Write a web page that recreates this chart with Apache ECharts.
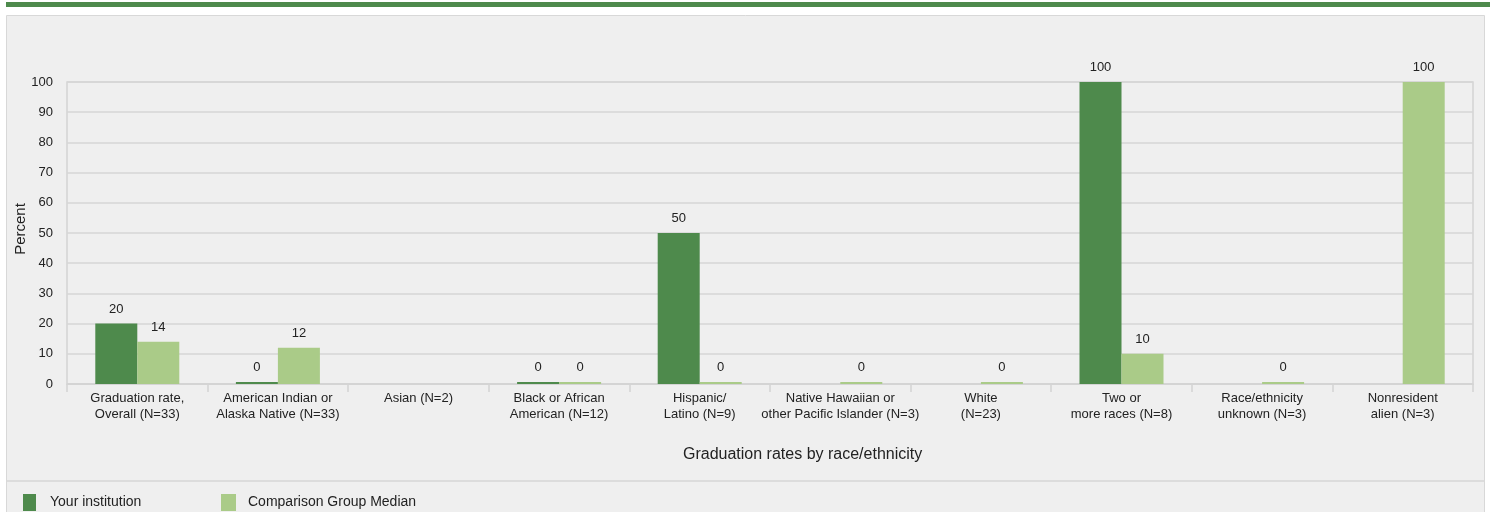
<!DOCTYPE html>
<html><head><meta charset="utf-8">
<script src="https://cdn.jsdelivr.net/npm/echarts@6/dist/echarts.min.js"></script>
<style>html,body{margin:0;padding:0;background:#fff;}#c{width:1490px;height:512px;}</style>
</head><body><div id="c"></div>
<script>
const categories = [
  'Graduation rate,\nOverall (N=33)',
  'American Indian or\nAlaska Native (N=33)',
  'Asian (N=2)',
  'Black or African\nAmerican (N=12)',
  'Hispanic/\nLatino (N=9)',
  'Native Hawaiian or\nother Pacific Islander (N=3)',
  'White\n(N=23)',
  'Two or\nmore races (N=8)',
  'Race/ethnicity\nunknown (N=3)',
  'Nonresident\nalien (N=3)'
];
const yourInstitution = [20, 0, '-', 0, 50, '-', '-', 100, '-', '-'];
const comparisonMedian = [14, 12, '-', 0, 0, 0, 0, 10, 0, 100];
const seriesNames = ['Your institution', 'Comparison Group Median'];
const yTicks = {min: 0, max: 100, interval: 10};
const yAxisTitle = 'Percent';
const xAxisTitle = 'Graduation rates by race/ethnicity';

const FONT = 'Liberation Sans, Arial, sans-serif';
const chart = echarts.init(document.getElementById('c'));
const labelCfg = {show: true, position: 'top', distance: 8, color: '#222', fontSize: 13, fontFamily: FONT};
chart.setOption({
  animation: false,
  textStyle: {fontFamily: FONT},
  graphic: [
    {type: 'rect', z: -10, shape: {x: 6, y: 2, width: 1484, height: 5}, style: {fill: '#4e8a4c'}},
    {type: 'rect', z: -10, shape: {x: 6.5, y: 15.5, width: 1478, height: 520}, style: {fill: '#efefef', stroke: '#d8d8d8', lineWidth: 1}},
    {type: 'rect', z: -9, shape: {x: 7, y: 480, width: 1477, height: 2}, style: {fill: '#dcdcdc'}},
    {type: 'text', z: 5, left: 683, top: 447, style: {text: xAxisTitle, fill: '#222', font: '16px ' + FONT}},
    {type: 'text', z: 5, x: 21, y: 229, rotation: Math.PI / 2,
     style: {text: yAxisTitle, fill: '#222', font: '15px ' + FONT, align: 'center', verticalAlign: 'middle'}}
  ],
  grid: {left: 67, right: 17, top: 82, bottom: 128, show: true, borderColor: '#d4d4d4', borderWidth: 1.5, backgroundColor: 'transparent', outerBoundsMode: 'none', containLabel: false},
  legend: [
    {data: [seriesNames[0]], left: 23, top: 494, padding: 0, itemWidth: 13, itemHeight: 17, icon: 'rect',
     textStyle: {color: '#222', fontSize: 14, fontFamily: FONT, padding: [0, 0, 0, 9]}},
    {data: [seriesNames[1]], left: 221, top: 494, padding: 0, itemWidth: 15, itemHeight: 17, icon: 'rect',
     textStyle: {color: '#222', fontSize: 14, fontFamily: FONT, padding: [0, 0, 0, 7]}}
  ],
  xAxis: {
    type: 'category', data: categories,
    axisLine: {lineStyle: {color: '#d4d4d4', width: 1.5}},
    axisTick: {show: true, length: 8, lineStyle: {color: '#d4d4d4', width: 1.5}},
    axisLabel: {color: '#222', fontSize: 13, lineHeight: 16, margin: 6, interval: 0, fontFamily: FONT}
  },
  yAxis: {
    type: 'value', min: yTicks.min, max: yTicks.max, interval: yTicks.interval,
    axisLine: {show: false}, axisTick: {show: false},
    axisLabel: {color: '#222', fontSize: 13, margin: 14, fontFamily: FONT},
    splitLine: {lineStyle: {color: '#d6d6d6', width: 1.5}}
  },
  series: [
    {name: seriesNames[0], type: 'bar', data: yourInstitution, barWidth: 42, barGap: '0%', barMinHeight: 2,
     itemStyle: {color: '#4e8a4c'}, label: labelCfg},
    {name: seriesNames[1], type: 'bar', data: comparisonMedian, barWidth: 42, barGap: '0%', barMinHeight: 2,
     itemStyle: {color: '#aacb88'}, label: labelCfg}
  ]
});
</script></body></html>
